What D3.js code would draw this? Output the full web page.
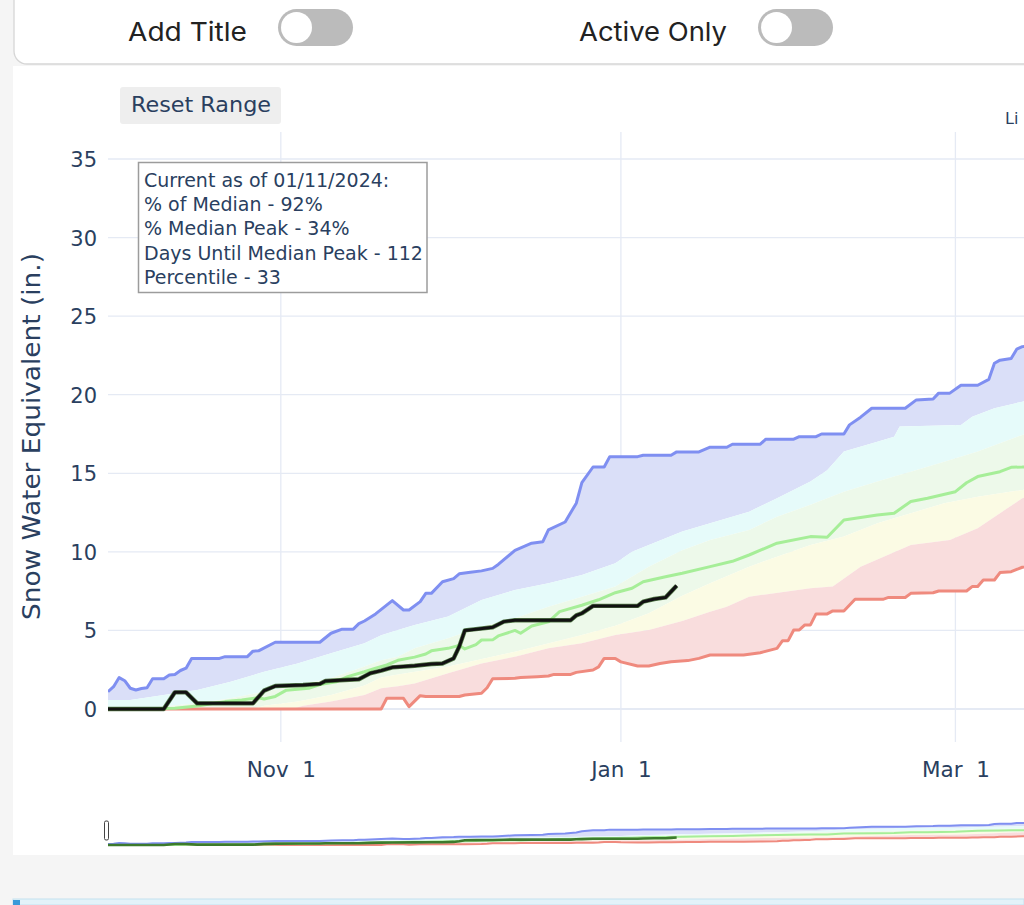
<!DOCTYPE html>
<html>
<head>
<meta charset="utf-8">
<script src="https://cdn.jsdelivr.net/npm/d3@7"></script>
<style>
html,body{margin:0;padding:0;background:#f5f5f5;overflow:hidden;}
svg{display:block;}
text{font-family:"DejaVu Sans",Verdana,sans-serif;fill:#2a3f5f;}
</style>
</head>
<body>
<svg id="chart" width="1024" height="905"></svg>
<script>
// ---- data ----
const maxSWE = [["2023-10-01",1.1],["2023-10-02",1.42],["2023-10-03",2.0],["2023-10-04",1.8],["2023-10-05",1.32],["2023-10-06",1.21],["2023-10-07",1.3],["2023-10-08",1.35],["2023-10-09",1.93],["2023-10-11",1.93],["2023-10-12",2.16],["2023-10-13",2.2],["2023-10-14",2.45],["2023-10-15",2.6],["2023-10-16",3.22],["2023-10-21",3.22],["2023-10-22",3.33],["2023-10-26",3.33],["2023-10-27",3.68],["2023-10-28",3.7],["2023-10-31",4.25],["2023-11-08",4.25],["2023-11-10",4.82],["2023-11-12",5.08],["2023-11-14",5.08],["2023-11-15",5.43],["2023-11-16",5.6],["2023-11-18",6.05],["2023-11-21",6.9],["2023-11-23",6.3],["2023-11-24",6.3],["2023-11-26",6.83],["2023-11-27",7.36],["2023-11-28",7.36],["2023-11-30",8.1],["2023-12-02",8.3],["2023-12-03",8.6],["2023-12-05",8.7],["2023-12-07",8.79],["2023-12-09",8.95],["2023-12-10",9.2],["2023-12-13",10.1],["2023-12-16",10.55],["2023-12-18",10.65],["2023-12-19",11.4],["2023-12-22",11.9],["2023-12-24",13.1],["2023-12-25",14.4],["2023-12-27",15.4],["2023-12-29",15.4],["2023-12-30",16.06],["2024-01-04",16.06],["2024-01-05",16.15],["2024-01-10",16.15],["2024-01-11",16.36],["2024-01-15",16.36],["2024-01-17",16.66],["2024-01-20",16.66],["2024-01-21",16.85],["2024-01-26",16.85],["2024-01-27",17.17],["2024-02-01",17.17],["2024-02-02",17.33],["2024-02-05",17.33],["2024-02-06",17.5],["2024-02-10",17.5],["2024-02-11",18.08],["2024-02-13",18.57],["2024-02-15",19.14],["2024-02-21",19.14],["2024-02-23",19.67],["2024-02-26",19.73],["2024-02-27",20.1],["2024-02-29",20.1],["2024-03-02",20.6],["2024-03-05",20.6],["2024-03-07",20.98],["2024-03-08",22.0],["2024-03-09",22.2],["2024-03-11",22.3],["2024-03-12",22.9],["2024-03-13",23.06],["2024-03-17",23.2]];

const pct90 = [["2023-10-01",0.57],["2023-10-05",0.57],["2023-10-11",0.89],["2023-10-17",1.21],["2023-10-23",1.74],["2023-10-29",2.37],["2023-11-04",2.9],["2023-11-10",3.54],["2023-11-16",4.18],["2023-11-19",4.7],["2023-11-22",5.03],["2023-11-25",5.35],["2023-12-01",5.88],["2023-12-07",6.94],["2023-12-13",7.57],["2023-12-19",8.0],["2023-12-25",8.53],["2023-12-31",9.27],["2024-01-03",10.0],["2024-01-06",10.44],["2024-01-12",11.29],["2024-01-17",11.82],["2024-01-24",12.56],["2024-01-29",13.41],["2024-02-04",14.47],["2024-02-07",15.2],["2024-02-10",16.38],["2024-02-16",17.01],["2024-02-19",17.33],["2024-02-20",17.97],["2024-03-02",18.08],["2024-03-04",18.6],["2024-03-08",19.14],["2024-03-13",19.56],["2024-03-17",19.9]];

const pct70 = [["2023-10-01",0],["2023-10-09",0.1],["2023-10-17",0.36],["2023-10-23",0.68],["2023-10-29",1.1],["2023-11-04",1.53],["2023-11-10",1.95],["2023-11-16",2.7],["2023-11-19",3.1],["2023-11-22",3.33],["2023-11-25",3.86],["2023-12-01",4.5],["2023-12-07",5.24],["2023-12-13",5.77],["2023-12-19",6.51],["2023-12-25",7.15],["2023-12-31",7.79],["2024-01-06",9.06],["2024-01-12",10.1],["2024-01-17",10.76],["2024-01-24",11.39],["2024-01-29",12.24],["2024-02-04",12.99],["2024-02-10",13.83],["2024-02-16",14.47],["2024-02-19",14.79],["2024-02-22",15.1],["2024-02-28",15.74],["2024-03-05",16.38],["2024-03-13",17.44],["2024-03-17",17.8]];

const medianSWE = [["2023-10-01",0],["2023-10-13",0.05],["2023-10-17",0.19],["2023-10-22",0.47],["2023-10-25",0.57],["2023-10-28",0.72],["2023-10-29",0.64],["2023-10-31",0.8],["2023-11-02",1.2],["2023-11-06",1.32],["2023-11-08",1.55],["2023-11-11",1.74],["2023-11-13",2.06],["2023-11-16",2.37],["2023-11-18",2.6],["2023-11-20",2.8],["2023-11-22",3.1],["2023-11-25",3.3],["2023-11-27",3.5],["2023-11-28",3.7],["2023-12-01",3.86],["2023-12-03",4.05],["2023-12-04",3.82],["2023-12-06",4.1],["2023-12-07",4.39],["2023-12-09",4.4],["2023-12-10",4.65],["2023-12-13",5.0],["2023-12-14",4.82],["2023-12-16",5.28],["2023-12-19",5.55],["2023-12-21",6.2],["2023-12-25",6.6],["2023-12-28",6.95],["2023-12-31",7.4],["2024-01-03",7.68],["2024-01-05",8.1],["2024-01-09",8.42],["2024-01-12",8.64],["2024-01-17",9.06],["2024-01-21",9.4],["2024-01-24",9.8],["2024-01-29",10.55],["2024-02-04",10.97],["2024-02-07",10.93],["2024-02-10",12.03],["2024-02-16",12.35],["2024-02-19",12.46],["2024-02-22",13.2],["2024-02-25",13.41],["2024-03-01",13.83],["2024-03-03",14.4],["2024-03-05",14.79],["2024-03-09",15.1],["2024-03-11",15.38],["2024-03-13",15.4],["2024-03-17",15.5]];

const pct30 = [["2023-10-01",0],["2023-10-27",0],["2023-10-29",0.2],["2023-11-04",0.47],["2023-11-10",0.89],["2023-11-16",1.5],["2023-11-19",2.0],["2023-11-22",2.2],["2023-12-01",2.7],["2023-12-13",3.65],["2023-12-25",4.71],["2023-12-31",5.3],["2024-01-06",6.1],["2024-01-12",7.2],["2024-01-17",8.0],["2024-01-24",9.06],["2024-01-29",9.69],["2024-02-04",10.44],["2024-02-10",10.97],["2024-02-16",11.82],["2024-02-22",12.46],["2024-02-28",13.09],["2024-03-05",13.51],["2024-03-13",13.94],["2024-03-17",14.1]];

const pct10 = [["2023-10-01",0],["2023-11-03",0],["2023-11-05",0.2],["2023-11-10",0.47],["2023-11-16",0.89],["2023-11-19",1.32],["2023-11-22",1.45],["2023-11-25",1.63],["2023-12-01",2.27],["2023-12-07",2.9],["2023-12-13",3.33],["2023-12-19",3.86],["2023-12-25",4.18],["2023-12-31",4.71],["2024-01-06",5.03],["2024-01-12",5.6],["2024-01-17",6.19],["2024-01-20",6.51],["2024-01-24",7.15],["2024-02-04",7.68],["2024-02-08",7.79],["2024-02-13",9.06],["2024-02-22",10.44],["2024-02-29",10.76],["2024-03-05",11.5],["2024-03-09",12.46],["2024-03-13",13.41],["2024-03-17",13.9]];

const minSWE = [["2023-10-01",0],["2023-11-19",0],["2023-11-20",0.68],["2023-11-23",0.68],["2023-11-24",0.15],["2023-11-26",0.85],["2023-11-27",0.8],["2023-12-03",0.8],["2023-12-04",0.89],["2023-12-07",1.0],["2023-12-08",1.35],["2023-12-09",1.93],["2023-12-13",1.95],["2023-12-14",2.0],["2023-12-17",2.06],["2023-12-19",2.1],["2023-12-20",2.2],["2023-12-23",2.2],["2023-12-24",2.33],["2023-12-27",2.48],["2023-12-28",2.68],["2023-12-29",3.22],["2023-12-31",3.22],["2024-01-01",3.0],["2024-01-04",2.74],["2024-01-06",2.74],["2024-01-08",2.9],["2024-01-10",3.0],["2024-01-13",3.08],["2024-01-15",3.22],["2024-01-17",3.44],["2024-01-23",3.44],["2024-01-26",3.58],["2024-01-29",3.86],["2024-01-30",4.35],["2024-01-31",4.35],["2024-02-01",5.03],["2024-02-02",5.03],["2024-02-03",5.35],["2024-02-04",5.35],["2024-02-05",6.05],["2024-02-07",6.05],["2024-02-08",6.24],["2024-02-10",6.24],["2024-02-12",6.98],["2024-02-17",6.98],["2024-02-18",7.1],["2024-02-21",7.1],["2024-02-22",7.36],["2024-02-26",7.4],["2024-02-27",7.51],["2024-03-03",7.51],["2024-03-04",7.79],["2024-03-05",7.79],["2024-03-06",8.21],["2024-03-08",8.21],["2024-03-09",8.68],["2024-03-11",8.74],["2024-03-13",9.02],["2024-03-17",9.3]];

const currentSWE = [["2023-10-01",0],["2023-10-11",0],["2023-10-13",1.06],["2023-10-15",1.06],["2023-10-17",0.36],["2023-10-27",0.36],["2023-10-29",1.17],["2023-10-31",1.46],["2023-11-05",1.53],["2023-11-08",1.6],["2023-11-09",1.78],["2023-11-15",1.89],["2023-11-17",2.27],["2023-11-19",2.44],["2023-11-21",2.65],["2023-11-25",2.75],["2023-11-28",2.86],["2023-11-30",2.9],["2023-12-02",3.22],["2023-12-03",3.97],["2023-12-04",5.0],["2023-12-06",5.08],["2023-12-09",5.2],["2023-12-11",5.56],["2023-12-13",5.65],["2023-12-23",5.65],["2023-12-24",5.96],["2023-12-25",6.09],["2023-12-27",6.56],["2024-01-04",6.56],["2024-01-05",6.83],["2024-01-07",7.0],["2024-01-09",7.1],["2024-01-10",7.47],["2024-01-11",7.85]];

const yTicks = [0,5,10,15,20,25,30,35];
const xTickDates = ["2023-11-01","2024-01-01","2024-03-01"];
const infoLines = ["Current as of 01/11/2024:","% of Median - 92%","% Median Peak - 34%","Days Until Median Peak - 112","Percentile - 33"];
const yTitle = "Snow Water Equivalent (in.)";

// ---- drawing ----
const parse = d3.utcParse("%Y-%m-%d");
const svg = d3.select("#chart");

const x = d3.scaleUtc().domain([parse("2023-10-01"), parse("2024-03-31")]).range([108, 108 + 182 * 5.575]);
const y = d3.scaleLinear().domain([0, 35]).range([709, 159]);
const ys = d3.scaleLinear().domain([0, 35]).range([845, 811.5]);

// page blocks
svg.append("rect").attr("x",0).attr("y",0).attr("width",1024).attr("height",905).attr("fill","#f5f5f5");
svg.append("rect").attr("x",14).attr("y",-20).attr("width",1040).attr("height",84).attr("rx",13)
  .attr("fill","#fff").attr("stroke","#d6d6d6").attr("stroke-width",1.3);
svg.append("rect").attr("x",13).attr("y",66).attr("width",1011).attr("height",789).attr("fill","#fff");

// top controls
svg.append("text").attr("x",128).attr("y",41).text("Add Title")
  .style("font-family","Inter, 'Noto Sans', sans-serif").style("font-size","26px").style("fill","#222")
  .attr("textLength",119).attr("lengthAdjust","spacingAndGlyphs");
svg.append("text").attr("x",579).attr("y",41).text("Active Only")
  .style("font-family","Inter, 'Noto Sans', sans-serif").style("font-size","26px").style("fill","#222")
  .attr("textLength",148).attr("lengthAdjust","spacingAndGlyphs");
[278, 758].forEach(tx => {
  svg.append("rect").attr("x",tx).attr("y",9).attr("width",75).attr("height",37).attr("rx",18.5).attr("fill","#bbbbbb");
  svg.append("circle").attr("cx",tx+18.5).attr("cy",27.5).attr("r",15.5).attr("fill","#fff");
});

// reset button
svg.append("rect").attr("x",120).attr("y",87).attr("width",161).attr("height",37).attr("rx",3).attr("fill","#eeeeee");
svg.append("text").attr("x",131).attr("y",112).text("Reset Range").style("font-size","21px")
  .attr("textLength",140).attr("lengthAdjust","spacingAndGlyphs");
svg.append("text").attr("x",1005).attr("y",124).text("Li").style("font-size","16px");

// grid
const grid = svg.append("g");
yTicks.forEach(t => {
  grid.append("line").attr("x1",108).attr("x2",1024).attr("y1",y(t)).attr("y2",y(t))
    .attr("stroke","#e5eaf4").attr("stroke-width", t === 0 ? 2.2 : 1.3);
});
xTickDates.forEach(s => {
  const px = x(parse(s));
  grid.append("line").attr("x1",px).attr("x2",px).attr("y1",132).attr("y2",742)
    .attr("stroke","#e5eaf4").attr("stroke-width",1.3);
});

// axes labels
const yAxis = d3.axisLeft(y).tickValues(yTicks).tickSize(0).tickPadding(0);
const gy = svg.append("g").attr("transform","translate(97,0)").call(yAxis);
gy.select(".domain").remove();
gy.selectAll("text").style("font-size","21px").style("fill","#2a3f5f").attr("dy","0.36em");

const xAxis = d3.axisBottom(x).tickValues(xTickDates.map(parse)).tickFormat(d3.utcFormat("%b %e")).tickSize(0).tickPadding(0);
const gx = svg.append("g").attr("transform","translate(0,777)").call(xAxis);
gx.select(".domain").remove();
gx.selectAll("text").style("font-size","21.5px").style("fill","#2a3f5f").style("white-space","pre").attr("dy","0");

svg.append("text").attr("transform","translate(40,436.5) rotate(-90)").attr("text-anchor","middle")
  .text(yTitle).style("font-size","24px").attr("textLength",367).attr("lengthAdjust","spacingAndGlyphs");

// series drawing helper
function drawSeries(g, ysc, lw) {
  const line = d3.line().x(d => x(parse(d[0]))).y(d => ysc(d[1]));
  const band = (up, lo) => line(up) + "L" + line(lo.slice().reverse()).slice(1) + "Z";
  const fills = [
    [maxSWE, pct90, "#dadff8"],
    [pct90, pct70, "#e6fbfa"],
    [pct70, medianSWE, "#edf9ea"],
    [medianSWE, pct30, "#edf9ea"],
    [pct30, pct10, "#fbfbe4"],
    [pct10, minSWE, "#f9dddd"]
  ];
  fills.forEach(f => g.append("path").attr("d", band(f[0], f[1])).attr("fill", f[2]).attr("stroke","none"));
  const lines = [
    [minSWE, "#ef8a7e", lw],
    [medianSWE, "#a6ee98", lw],
    [maxSWE, "#7f8ff1", lw]
  ];
  lines.forEach(l => g.append("path").attr("d", line(l[0])).attr("fill","none")
    .attr("stroke", l[1]).attr("stroke-width", l[2]).attr("stroke-linejoin","round"));
  return line;
}

// main plot
svg.append("clipPath").attr("id","plotclip").append("rect").attr("x",108).attr("y",132).attr("width",1000).attr("height",610);
const plot = svg.append("g").attr("clip-path","url(#plotclip)");
const mainLine = drawSeries(plot, y, 3);
plot.append("path").attr("d", mainLine(currentSWE)).attr("fill","none").attr("stroke","#2f5a22")
  .attr("stroke-width",4.4).attr("stroke-linejoin","round").attr("opacity",0.8);
plot.append("path").attr("d", mainLine(currentSWE)).attr("fill","none").attr("stroke","#111")
  .attr("stroke-width",3).attr("stroke-linejoin","round");

// annotation box
svg.append("rect").attr("x",138.5).attr("y",162.5).attr("width",288.5).attr("height",130)
  .attr("fill","#fff").attr("stroke","#9c9c9c").attr("stroke-width",1.5);
infoLines.forEach((t, i) => {
  svg.append("text").attr("x",144).attr("y",187 + i * 24.2).text(t).style("font-size","19px");
});

// range slider
svg.append("clipPath").attr("id","sliderclip").append("rect").attr("x",108).attr("y",806).attr("width",1000).attr("height",44);
const slider = svg.append("g").attr("clip-path","url(#sliderclip)");
const sLine = drawSeries(slider, ys, 2);
slider.append("path").attr("d", sLine(currentSWE)).attr("fill","none").attr("stroke","#3d7a2c")
  .attr("stroke-width",2.6).attr("stroke-linejoin","round");
svg.append("rect").attr("x",104.5).attr("y",821).attr("width",4).attr("height",19).attr("rx",1.5)
  .attr("fill","#fff").attr("stroke","#444").attr("stroke-width",1);

// bottom strip
svg.append("rect").attr("x",13).attr("y",899).attr("width",1011).attr("height",6).attr("fill","#e3f2f9").attr("stroke","#c4e2f0").attr("stroke-width",1);
svg.append("rect").attr("x",13).attr("y",900).attr("width",7).attr("height",5).attr("fill","#3a9ad9");
</script>
</body>
</html>
